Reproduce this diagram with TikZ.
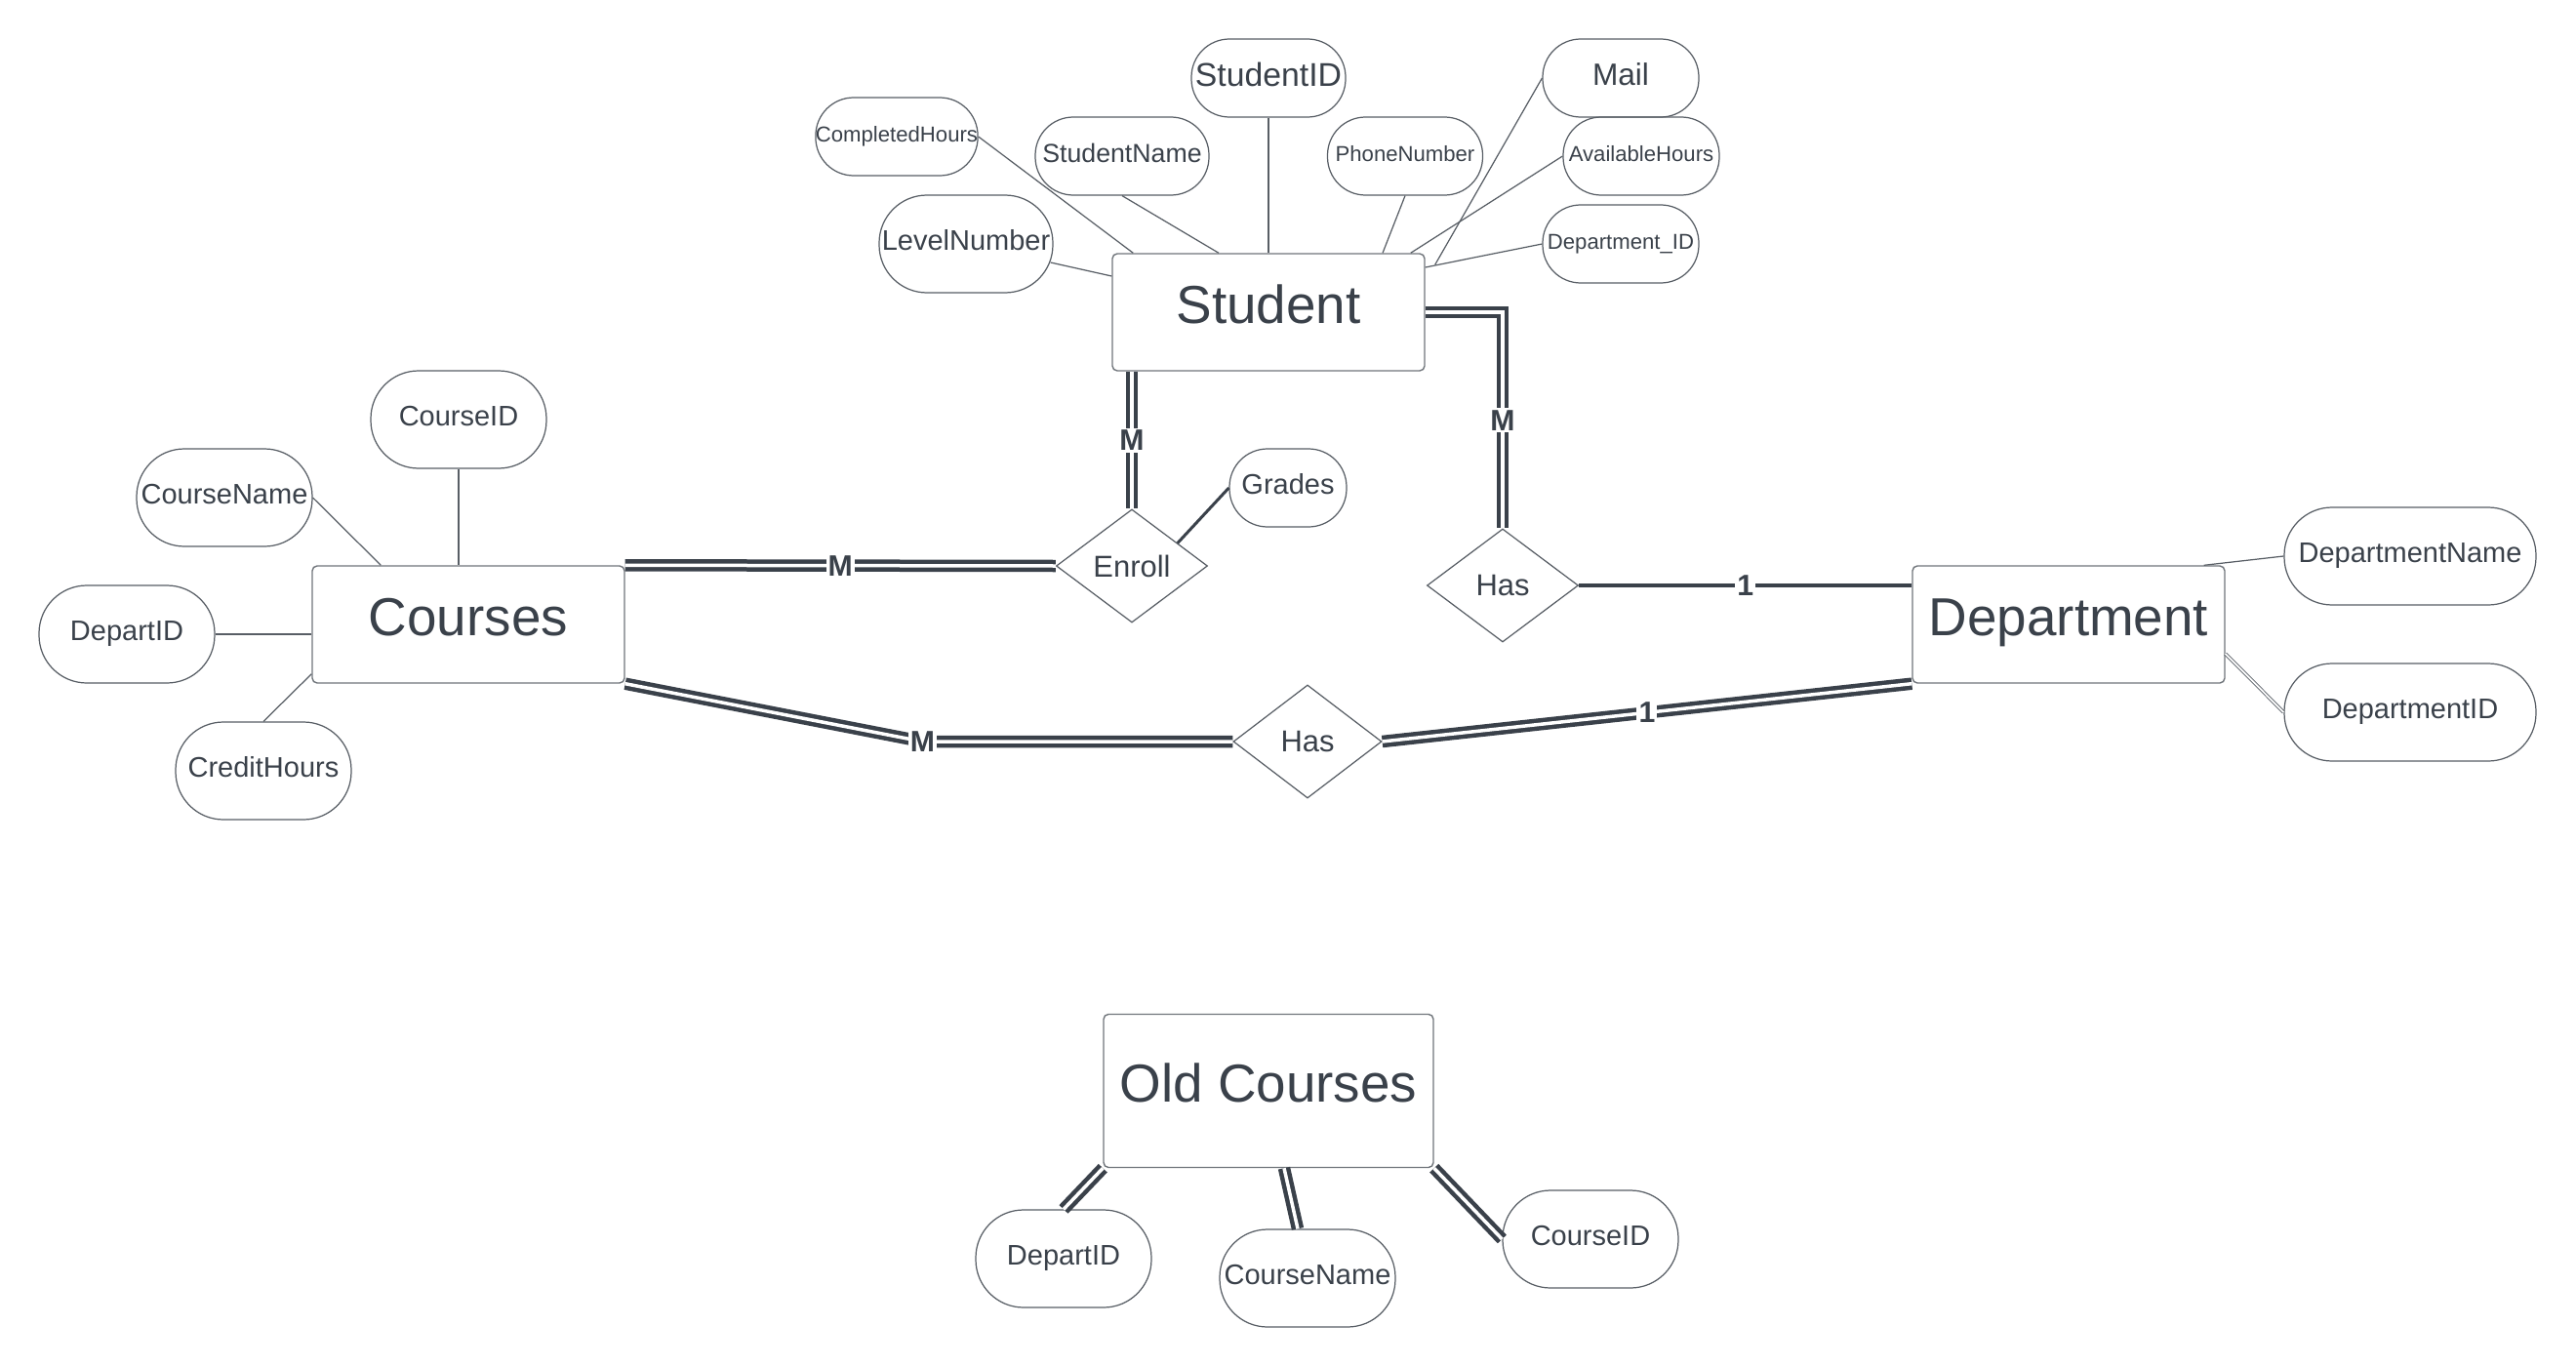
\documentclass[tikz,border=0pt]{standalone}
\usepackage{fontspec}
\setmainfont{Liberation Sans}
\usetikzlibrary{calc,positioning,shapes.geometric}

\definecolor{ink}{HTML}{3A414A}
\definecolor{edge}{HTML}{70757B}

\begin{document}
\begin{tikzpicture}[y=-1cm,
    entity/.style={draw=edge, line width=0.4pt, rounded corners=0.05cm, minimum width=3.2cm, minimum height=1.2cm,
                   inner sep=0pt, text=ink, text height=0.4cm, text depth=0.17cm, font=\fontsize{15.6}{18}\selectfont},
    attr/.style={draw=ink!85, line width=0.35pt, rounded corners=0.39cm, minimum width=1.6cm, minimum height=0.8cm,
                 inner sep=0pt, text=ink, text height=0.25cm, text depth=0.12cm, font=\fontsize{8.25}{10}\selectfont},
    tall/.style={minimum height=1cm, rounded corners=0.49cm},
    tiny/.style={font=\fontsize{6.3}{8}\selectfont, text height=0.2cm, text depth=0.1cm},
    rel/.style={diamond, draw=ink!85, line width=0.35pt, minimum width=1.55cm, minimum height=1.16cm,
                inner sep=0pt, text=ink, font=\fontsize{8.8}{10}\selectfont},
    dbl/.style={draw=ink, line width=0.045cm, double=white, double distance=0.035cm},
    link/.style={draw=ink!85, line width=0.35pt},
    card/.style={fill=white, inner sep=0.6pt, text=ink, font=\bfseries\fontsize{8.6}{10}\selectfont}]

\useasboundingbox (0,0) rectangle (26.4,14);

\node[entity] (student) at (13.00,3.20) {Student};
\node[entity] (courses) at (4.80,6.40) {Courses};
\node[entity] (department) at (21.20,6.40) {Department};
\node[entity, minimum width=3.38cm, minimum height=1.57cm] (oldc) at (13.00,11.18) {Old Courses};

\node[attr, minimum width=1.58cm, font=\fontsize{9.6}{11}\selectfont, text height=0.28cm] (stuid) at (13.00,0.80) {StudentID};
\node[attr, font=\fontsize{9}{11}\selectfont, text height=0.27cm] (mail) at (16.61,0.80) {Mail};
\node[attr, tiny, minimum width=1.62cm] (chours) at (9.19,1.40) {CompletedHours};
\node[attr, minimum width=1.78cm, font=\fontsize{7.6}{9}\selectfont] (stuname) at (11.50,1.60) {StudentName};
\node[attr, tiny, minimum width=1.59cm] (phone) at (14.40,1.60) {PhoneNumber};
\node[attr, tiny] (avhours) at (16.82,1.60) {AvailableHours};
\node[attr, tall, minimum width=1.78cm] (level) at (9.90,2.50) {LevelNumber};
\node[attr, tiny] (sdept) at (16.61,2.50) {Department\_ID};

\node[rel] (enroll) at (11.60,5.80) {Enroll};
\node[rel] (has1) at (15.40,6.00) {Has};
\node[rel, minimum width=1.52cm] (has2) at (13.40,7.60) {Has};
\node[attr, minimum width=1.2cm] (grades) at (13.20,5.00) {Grades};

\node[attr, tall, minimum width=1.8cm] (crsid) at (4.70,4.30) {CourseID};
\node[attr, tall, minimum width=1.8cm] (crsname) at (2.30,5.10) {CourseName};
\node[attr, tall, minimum width=1.8cm] (crsdep) at (1.30,6.50) {DepartID};
\node[attr, tall, minimum width=1.8cm] (credit) at (2.70,7.90) {CreditHours};

\node[attr, tall, minimum width=2.58cm] (dname) at (24.70,5.70) {DepartmentName};
\node[attr, tall, minimum width=2.58cm] (did) at (24.70,7.30) {DepartmentID};

\node[attr, tall, minimum width=1.8cm] (ocdep) at (10.90,12.90) {DepartID};
\node[attr, tall, minimum width=1.8cm] (ocname) at (13.40,13.10) {CourseName};
\node[attr, tall, minimum width=1.8cm] (ocid) at (16.30,12.70) {CourseID};

\draw[link] (chours.east) -- ($(student.north west)+(0.22,0)$);
\draw[link] (stuname.south) -- ($(student.north)+(-0.51,0)$);
\draw[link] (stuid.south) -- (student.north);
\draw[link] (phone.south) -- ($(student.north)+(1.17,0)$);
\draw[link] (avhours.west) -- ($(student.north east)+(-0.15,0)$);
\draw[link] (mail.west) -- ($(student.north east)+(0.1,0.12)$);
\draw[link] (sdept.west) -- ($(student.east)+(0,-0.46)$);
\draw[link] ($(level.east)+(-0.03,0.19)$) -- ($(student.west)+(0,-0.37)$);

\draw[link] (crsid.south) -- (crsid.south |- courses.north);
\draw[link] (crsname.east) -- ($(courses.north west)+(0.71,0)$);
\draw[link] (crsdep.east) -- (crsdep.east -| courses.west);
\draw[link] (credit.north) -- ($(courses.south west)+(0,-0.1)$);

\draw[link] (dname.west) -- ($(department.north east)+(-0.22,0)$);
\draw[draw=ink!85, line width=0.25pt, double=white, double distance=0.5pt] (did.west) -- ($(department.east)+(0,0.3)$);

\draw[ink, line width=0.03cm] (grades.west) -- ($(enroll.north)!0.6!(enroll.east)$);

\draw[dbl] (student.south -| enroll.north) -- (enroll.north) node[card, midway] {M};
\draw[dbl] (courses.north east) -- (enroll.west) node[card, midway] {M};
\draw[dbl] (student.east) -| (has1.north) node[card, pos=0.75] {M};
\draw[ink, line width=0.04cm] (has1.east) -- (has1.east -| department.west) node[card, midway] {1};
\draw[dbl] (courses.south east) -- ($(has2.west)+(-3.18,0)$) node[card] {M} -- (has2.west);
\draw[dbl] (has2.east) -- (department.south west) node[card, midway] {1};

\draw[dbl] (oldc.south west) -- (ocdep.north);
\draw[dbl] ($(oldc.south)+(0.16,0)$) -- ($(ocname.north)+(-0.1,0)$);
\draw[dbl] (oldc.south east) -- (ocid.west);

\end{tikzpicture}
\end{document}
